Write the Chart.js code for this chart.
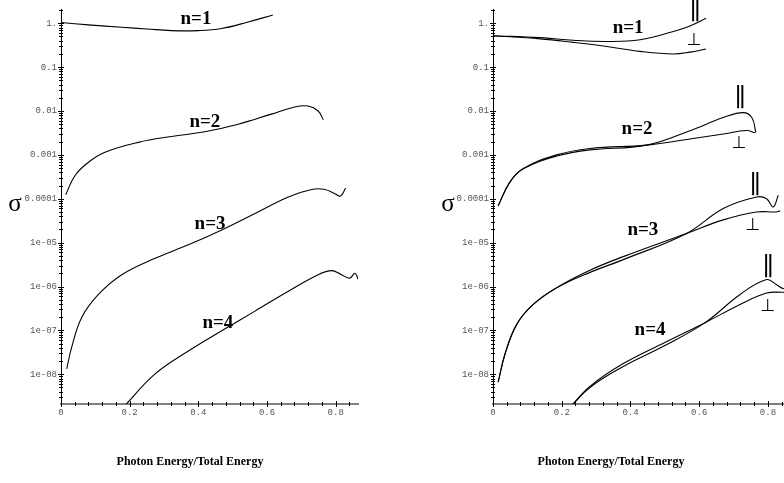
<!DOCTYPE html>
<html><head><meta charset="utf-8">
<script src="https://cdn.jsdelivr.net/npm/chart.js@4"></script>
<style>
html,body{margin:0;padding:0;width:784px;height:483px;overflow:hidden;background:#fff;}
canvas{position:absolute;top:0;}
#c1{left:0}
#c2{left:392px}
</style></head><body>
<canvas id="c1" width="392" height="483"></canvas>
<canvas id="c2" width="420" height="483"></canvas>
<script>
// ---- ticks ----
const xTickValues = [0, 0.2, 0.4, 0.6, 0.8];
const xTickLabels = ["0", "0.2", "0.4", "0.6", "0.8"];
const yTickValues = [1, 0.1, 0.01, 0.001, 1e-4, 1e-5, 1e-6, 1e-7, 1e-8];
const yTickLabels = ["1.", "0.1", "0.01", "0.001", "0.0001", "1e-05", "1e-06", "1e-07", "1e-08"];

// ---- left panel (unpolarised) ----
const L_n1_x = [0, 0.08, 0.177, 0.25, 0.322, 0.40, 0.468, 0.545, 0.617];
const L_n1_y = [1.04, 0.92, 0.81, 0.74, 0.68, 0.68, 0.76, 1.07, 1.54];
const L_n2_x = [0.0137, 0.041, 0.08, 0.128, 0.225, 0.322, 0.419, 0.516, 0.613, 0.681, 0.72, 0.749, 0.764];
const L_n2_y = [1.24e-4, 3.4e-4, 6.8e-4, 1.15e-3, 1.93e-3, 2.63e-3, 3.37e-3, 5.0e-3, 8.5e-3, 1.24e-2, 1.3e-2, 1.0e-2, 6.3e-3];
const L_n3_x = [0.0165, 0.031, 0.06, 0.109, 0.177, 0.274, 0.371, 0.468, 0.565, 0.662, 0.73, 0.769, 0.798, 0.814, 0.829];
const L_n3_y = [1.32e-8, 4.1e-8, 1.95e-7, 6.6e-7, 1.86e-6, 4.4e-6, 8.9e-6, 1.95e-5, 4.6e-5, 1.1e-4, 1.63e-4, 1.63e-4, 1.3e-4, 1.15e-4, 1.76e-4];
const L_n4_x = [0.185, 0.274, 0.371, 0.468, 0.565, 0.662, 0.749, 0.788, 0.817, 0.841, 0.856, 0.866];
const L_n4_y = [1.9e-9, 1.02e-8, 3.4e-8, 9.8e-8, 2.75e-7, 7.8e-7, 1.86e-6, 2.3e-6, 1.86e-6, 1.55e-6, 2.0e-6, 1.44e-6];

// ---- right panel (parallel / perpendicular) ----
const R_n1_par_x = [0, 0.137, 0.234, 0.331, 0.428, 0.525, 0.573, 0.62];
const R_n1_par_y = [0.52, 0.47, 0.41, 0.385, 0.42, 0.65, 0.87, 1.3];
const R_n1_perp_x = [0, 0.137, 0.234, 0.331, 0.428, 0.525, 0.573, 0.62];
const R_n1_perp_y = [0.52, 0.44, 0.366, 0.296, 0.229, 0.2, 0.22, 0.26];
const R_n2_par_x = [0.015, 0.049, 0.088, 0.185, 0.282, 0.447, 0.573, 0.67, 0.728, 0.753, 0.765];
const R_n2_par_y = [6.9e-5, 2.4e-4, 4.8e-4, 9.4e-4, 1.3e-3, 1.67e-3, 3.55e-3, 7.1e-3, 9.2e-3, 7.1e-3, 3.2e-3];
const R_n2_perp_x = [0.015, 0.049, 0.088, 0.185, 0.282, 0.447, 0.573, 0.67, 0.738, 0.762];
const R_n2_perp_y = [6.9e-5, 2.4e-4, 4.9e-4, 1.0e-3, 1.4e-3, 1.67e-3, 2.3e-3, 3.0e-3, 3.6e-3, 3.2e-3];
const R_n3_par_x = [0.015, 0.035, 0.069, 0.117, 0.185, 0.282, 0.379, 0.563, 0.67, 0.767, 0.796, 0.815, 0.83];
const R_n3_par_y = [6.6e-9, 2.9e-8, 1.37e-7, 3.9e-7, 9.3e-7, 2.1e-6, 4.1e-6, 1.62e-5, 6.0e-5, 1.1e-4, 1.0e-4, 6.5e-5, 1.2e-4];
const R_n3_perp_x = [0.015, 0.035, 0.069, 0.117, 0.185, 0.282, 0.379, 0.563, 0.67, 0.767, 0.825, 0.835];
const R_n3_perp_y = [6.6e-9, 2.9e-8, 1.37e-7, 3.9e-7, 9.4e-7, 2.35e-6, 4.8e-6, 1.62e-5, 3.3e-5, 5.0e-5, 5.0e-5, 5.3e-5];
const R_n4_par_x = [0.225, 0.282, 0.379, 0.5, 0.617, 0.719, 0.796, 0.825, 0.845, 0.87];
const R_n4_par_y = [1.8e-9, 5.0e-9, 1.5e-8, 4.5e-8, 1.5e-7, 6.6e-7, 1.44e-6, 1.1e-6, 8.9e-7, 8.5e-7];
const R_n4_perp_x = [0.225, 0.282, 0.379, 0.5, 0.617, 0.719, 0.796, 0.845, 0.87];
const R_n4_perp_y = [1.8e-9, 5.3e-9, 1.75e-8, 5.3e-8, 1.5e-7, 3.9e-7, 7.1e-7, 7.4e-7, 7.4e-7];

const X_MIN = 0, X_MAX = 0.865, Y_MIN = 2.1e-9, Y_MAX = 2.07;

function series(xs, ys, label) {
  return {
    label, data: xs.map((x, i) => ({x, y: ys[i]})),
    borderColor: '#000', borderWidth: 1.1, pointRadius: 0, tension: 0.4, fill: false
  };
}

const axisTicks = {
  id: 'axisTicks',
  afterDraw(chart) {
    const {ctx, chartArea: a, scales: {x, y}} = chart;
    ctx.save();
    ctx.strokeStyle = '#000';
    ctx.lineWidth = 1;
    ctx.beginPath();
    for (let i = 0; i * 0.04 <= x.max + 1e-9; i++) {
      const px = Math.round(x.getPixelForValue(i * 0.04)) + 0.5;
      const len = (i % 5 === 0) ? 3 : 2;
      ctx.moveTo(px, a.bottom - len); ctx.lineTo(px, a.bottom + len);
    }
    for (let e = -10; e <= 1; e++) {
      for (let m = 1; m <= 9; m++) {
        const v = m * Math.pow(10, e);
        if (v < y.min || v > y.max) continue;
        const py = Math.round(y.getPixelForValue(v)) + 0.5;
        const len = (m === 1) ? 3 : 2;
        ctx.moveTo(a.left - len, py); ctx.lineTo(a.left + len, py);
      }
    }
    ctx.stroke();
    ctx.restore();
  }
};

const textLayer = {
  id: 'textLayer',
  afterDraw(chart, args, opts) {
    const {ctx, scales: {x, y}} = chart;
    ctx.save();
    ctx.fillStyle = '#000';
    ctx.textAlign = 'center';
    ctx.textBaseline = 'middle';
    (opts.items || []).forEach(it => {
      ctx.font = it.font;
      ctx.fillText(it.text, x.getPixelForValue(it.x), y.getPixelForValue(it.y));
    });
    (opts.fixed || []).forEach(it => {
      ctx.font = it.font;
      ctx.fillText(it.text, it.px, it.py);
    });
    ctx.restore();
  }
};

const LBL = "bold 19px 'Liberation Serif', serif";
const PAR = "25px 'DejaVu Serif', serif";
const PERP = "17px 'DejaVu Sans', sans-serif";
const TITLE = "bold 12px 'Liberation Serif', serif";
const SIG = "25px 'Liberation Serif', serif";

function makeChart(id, datasets, yAxisWidth, padRight, items, fixed) {
  new Chart(document.getElementById(id), {
    type: 'line',
    data: {datasets},
    plugins: [axisTicks, textLayer],
    options: {
      responsive: false, animation: false, devicePixelRatio: 1,
      layout: {padding: {left: 0, right: padRight, top: 6, bottom: 0}},
      plugins: {legend: {display: false}, tooltip: {enabled: false}, textLayer: {items, fixed}},
      scales: {
        x: {
          type: 'linear', min: X_MIN, max: X_MAX,
          afterBuildTicks: s => { s.ticks = xTickValues.map(v => ({value: v})); },
          afterFit: s => { s.height = 79; },
          grid: {display: false, drawTicks: false, tickLength: 0},
          border: {display: true, color: '#808080', width: 2},
          ticks: {
            autoSkip: false, maxRotation: 0, padding: 3, color: '#555',
            font: {family: "'Liberation Mono', monospace", size: 9},
            callback: v => { const i = xTickValues.findIndex(t => Math.abs(t - v) < 1e-9); return i >= 0 ? xTickLabels[i] : ''; }
          }
        },
        y: {
          type: 'logarithmic', min: Y_MIN, max: Y_MAX,
          afterBuildTicks: s => { s.ticks = yTickValues.map(v => ({value: v})); },
          afterFit: s => { s.width = yAxisWidth; },
          grid: {display: false, drawTicks: false, tickLength: 0},
          border: {display: true, color: '#000', width: 1},
          ticks: {
            autoSkip: false, padding: 4, color: '#555',
            font: {family: "'Liberation Mono', monospace", size: 9},
            callback: v => { const i = yTickValues.findIndex(t => Math.abs(t - v) / t < 1e-6); return i >= 0 ? yTickLabels[i] : ''; }
          }
        }
      }
    }
  });
}

makeChart('c1', [
  series(L_n1_x, L_n1_y, 'n=1'),
  series(L_n2_x, L_n2_y, 'n=2'),
  series(L_n3_x, L_n3_y, 'n=3'),
  series(L_n4_x, L_n4_y, 'n=4')
], 61, 34, [
  {text: 'n=1', x: 0.393, y: 1.23, font: LBL},
  {text: 'n=2', x: 0.419, y: 5.47e-3, font: LBL},
  {text: 'n=3', x: 0.434, y: 2.69e-5, font: LBL},
  {text: 'n=4', x: 0.457, y: 1.47e-7, font: LBL}
], [
  {text: 'σ', px: 15, py: 204, font: SIG},
  {text: 'Photon Energy/Total Energy', px: 190, py: 462, font: TITLE}
]);

makeChart('c2', [
  series(R_n1_par_x, R_n1_par_y, 'n=1 ∥'),
  series(R_n1_perp_x, R_n1_perp_y, 'n=1 ⊥'),
  series(R_n2_par_x, R_n2_par_y, 'n=2 ∥'),
  series(R_n2_perp_x, R_n2_perp_y, 'n=2 ⊥'),
  series(R_n3_par_x, R_n3_par_y, 'n=3 ∥'),
  series(R_n3_perp_x, R_n3_perp_y, 'n=3 ⊥'),
  series(R_n4_par_x, R_n4_par_y, 'n=4 ∥'),
  series(R_n4_perp_x, R_n4_perp_y, 'n=4 ⊥')
], 101, 21.7, [
  {text: 'n=1', x: 0.393, y: 0.77, font: LBL},
  {text: '∥', x: 0.588, y: 1.77, font: PAR},
  {text: '⊥', x: 0.585, y: 0.41, font: PERP},
  {text: 'n=2', x: 0.419, y: 3.8e-3, font: LBL},
  {text: '∥', x: 0.719, y: 1.81e-2, font: PAR},
  {text: '⊥', x: 0.716, y: 1.83e-3, font: PERP},
  {text: 'n=3', x: 0.436, y: 1.97e-5, font: LBL},
  {text: '∥', x: 0.762, y: 1.95e-4, font: PAR},
  {text: '⊥', x: 0.756, y: 2.43e-5, font: PERP},
  {text: 'n=4', x: 0.457, y: 1.02e-7, font: LBL},
  {text: '∥', x: 0.8, y: 2.58e-6, font: PAR},
  {text: '⊥', x: 0.8, y: 3.56e-7, font: PERP}
], [
  {text: 'σ', px: 56, py: 204, font: SIG},
  {text: 'Photon Energy/Total Energy', px: 219, py: 462, font: TITLE}
]);
</script>
</body></html>
